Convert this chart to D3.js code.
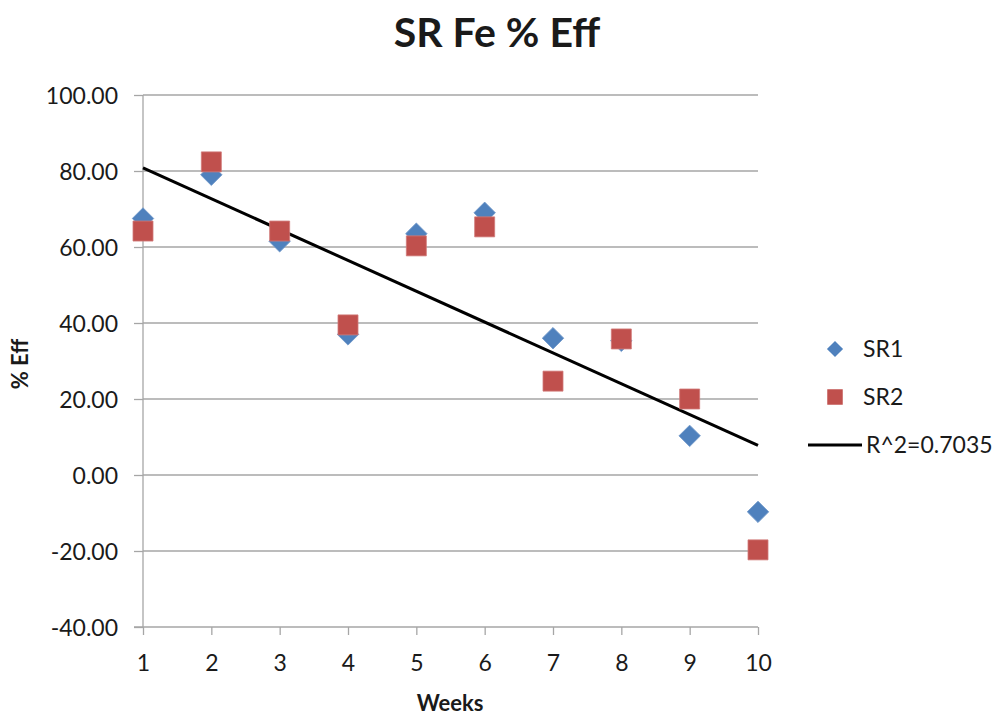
<!DOCTYPE html>
<html><head><meta charset="utf-8">
<script src="https://cdn.jsdelivr.net/npm/d3@7"></script>
<style>body{margin:0;background:#fff}svg{display:block}text{font-family:Lato,"Open Sans",sans-serif;fill:#1a1a1a}</style>
</head><body><svg id="c" width="1001" height="715"></svg>
<script>
const weeks = [1,2,3,4,5,6,7,8,9,10];
const sr1 = [67.5,79.0,61.5,37.0,63.5,69.0,36.0,35.3,10.3,-9.7];
const sr2 = [64.2,82.4,64.2,39.5,60.3,65.3,24.7,35.8,20.0,-19.7];
const yTicks = [-40,-20,0,20,40,60,80,100];
const title = "SR Fe % Eff";
const xTitle = "Weeks";
const yTitle = "% Eff";
const seriesNames = ["SR1","SR2"];
const trendLabel = "R^2=0.7035";

const svg = d3.select("#c");
const x = d3.scaleLinear().domain([1,10]).range([143,758]);
const y = d3.scaleLinear().domain([-40,100]).range([627,95]);

// gridlines
svg.append("g").selectAll("line").data(yTicks.filter(d=>d>-40)).join("line")
  .attr("x1",143).attr("x2",758).attr("y1",d=>y(d)).attr("y2",d=>y(d))
  .attr("stroke","#a6a6a6").attr("stroke-width",1.3);

const yAxis = svg.append("g").attr("transform","translate(143,0)")
  .call(d3.axisLeft(y).tickValues(yTicks).tickFormat(d=>d.toFixed(2)).tickSize(9).tickPadding(16));
const xAxis = svg.append("g").attr("transform","translate(0,627)")
  .call(d3.axisBottom(x).tickValues(weeks).tickFormat(d=>String(d)).tickSize(8).tickPadding(20));
[yAxis,xAxis].forEach(a=>{
  a.selectAll("path,line").attr("stroke","#a6a6a6").attr("stroke-width",1.3);
  a.select(".domain").attr("d", a===yAxis ? "M0,627V95" : "M134,0H758");
  a.selectAll("text").style("font-family","Lato").style("font-size","23px").attr("fill","#1a1a1a");
});
yAxis.selectAll("text").attr("dy","0.35em");

// trend line (least squares over both series)
const pts = weeks.flatMap((w,i)=>[[w,sr1[i]],[w,sr2[i]]]);
const mx = d3.mean(pts,p=>p[0]), my = d3.mean(pts,p=>p[1]);
const slope = d3.sum(pts,p=>(p[0]-mx)*(p[1]-my))/d3.sum(pts,p=>(p[0]-mx)**2);
const icpt = my - slope*mx;
svg.append("line").attr("x1",x(1)).attr("y1",y(icpt+slope)).attr("x2",x(10)).attr("y2",y(icpt+slope*10))
  .attr("stroke","#000").attr("stroke-width",3);

// SR1 diamonds
svg.append("g").selectAll("path").data(weeks).join("path")
  .attr("d", d3.symbol().type(d3.symbolSquare).size(230))
  .attr("transform",(d,i)=>`translate(${x(d)},${y(sr1[i])}) rotate(45)`)
  .attr("fill","#4f81bd").attr("stroke","#6f97c9").attr("stroke-width",0.8);
// SR2 squares
svg.append("g").selectAll("path").data(weeks).join("path")
  .attr("d", d3.symbol().type(d3.symbolSquare).size(400))
  .attr("transform",(d,i)=>`translate(${x(d)},${y(sr2[i])})`)
  .attr("fill","#c0504d").attr("stroke","#d07a78").attr("stroke-width",0.8);

// titles
svg.append("text").attr("x",497).attr("y",47).attr("text-anchor","middle")
  .style("font-size","41px").style("font-weight","bold").attr("fill","#000").text(title);
svg.append("text").attr("x",450).attr("y",711).attr("text-anchor","middle")
  .style("font-size","22px").style("font-weight","bold").text(xTitle);
svg.append("text").attr("transform","translate(28,364) rotate(-90)").attr("text-anchor","middle")
  .style("font-size","22px").style("font-weight","bold").text(yTitle);

// legend
const lg = svg.append("g");
lg.append("path").attr("d", d3.symbol().type(d3.symbolSquare).size(130))
  .attr("transform","translate(835,349) rotate(45)").attr("fill","#4f81bd");
lg.append("path").attr("d", d3.symbol().type(d3.symbolSquare).size(240))
  .attr("transform","translate(835,397)").attr("fill","#c0504d");
lg.append("line").attr("x1",808).attr("x2",862).attr("y1",445).attr("y2",445).attr("stroke","#000").attr("stroke-width",3);
lg.selectAll("text.s").data([seriesNames[0],seriesNames[1],trendLabel]).join("text")
  .attr("x",(d,i)=>i<2?863:866).attr("y",(d,i)=>349+i*48).attr("dy","0.35em")
  .style("font-size","23px").text(d=>d);
</script></body></html>
